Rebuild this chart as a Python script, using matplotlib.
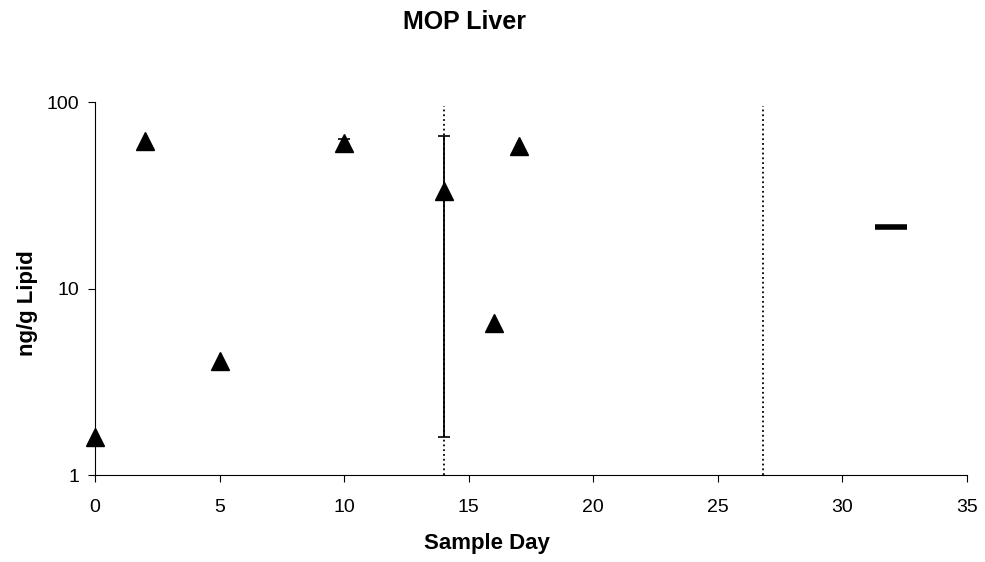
import numpy as np
import matplotlib.pyplot as plt

plt.rcParams['font.family'] = ['Liberation Sans', 'DejaVu Sans']

# Данные
days = [0, 2, 5, 10, 14, 16, 17]
values = [1.6, 62, 4.1, 60, 33.5, 6.5, 58]

# Точки с погрешностью
err_days = [10, 14]
err_values = [60, 33.5]
err_low = [3, 31.9]
err_high = [3, 32.5]

dotted_days = [14, 26.8]

dash_start = [31.3]
dash_end = [32.6]
dash_value = [21.3]

fig = plt.figure(figsize=(9.85, 5.62), dpi=100)
ax = fig.add_axes([0.0964, 0.1548, 0.8853, 0.6637])

for d in dotted_days:
    ax.axvline(d, color='black', linestyle=':', linewidth=1.3, ymax=0.99)

ax.errorbar(err_days, err_values, yerr=[err_low, err_high], fmt='none',
            ecolor='black', elinewidth=1.3, capsize=4.5, capthick=1.2)
ax.plot(days, values, '^', color='black', markersize=12.5, clip_on=False,
        zorder=5)

ax.hlines(dash_value, dash_start, dash_end, colors='black', linewidth=4)

ax.set_yscale('log')
ax.set_ylim(1, 100)
ax.set_xlim(0, 35)
ax.set_xticks(np.arange(0, 36, 5))
ax.set_yticks([1, 10, 100])
ax.set_yticklabels(['1', '10', '100'])
ax.yaxis.set_minor_locator(plt.NullLocator())

ax.spines['top'].set_visible(False)
ax.spines['right'].set_visible(False)
ax.tick_params(axis='both', labelsize=14, length=5, direction='out')
ax.tick_params(axis='x', pad=12.5)
ax.tick_params(axis='y', pad=6.5)

fig.text(0.494, 0.023, 'Sample Day', fontsize=16, fontweight='bold',
         ha='center', va='baseline')
fig.text(0.0284, 0.461, 'ng/g Lipid', fontsize=16, fontweight='bold',
         ha='center', va='center', rotation=90)
fig.text(0.472, 0.948, 'MOP Liver', fontsize=18, fontweight='bold',
         ha='center', va='baseline')

fig.savefig('out.png', dpi=100)
